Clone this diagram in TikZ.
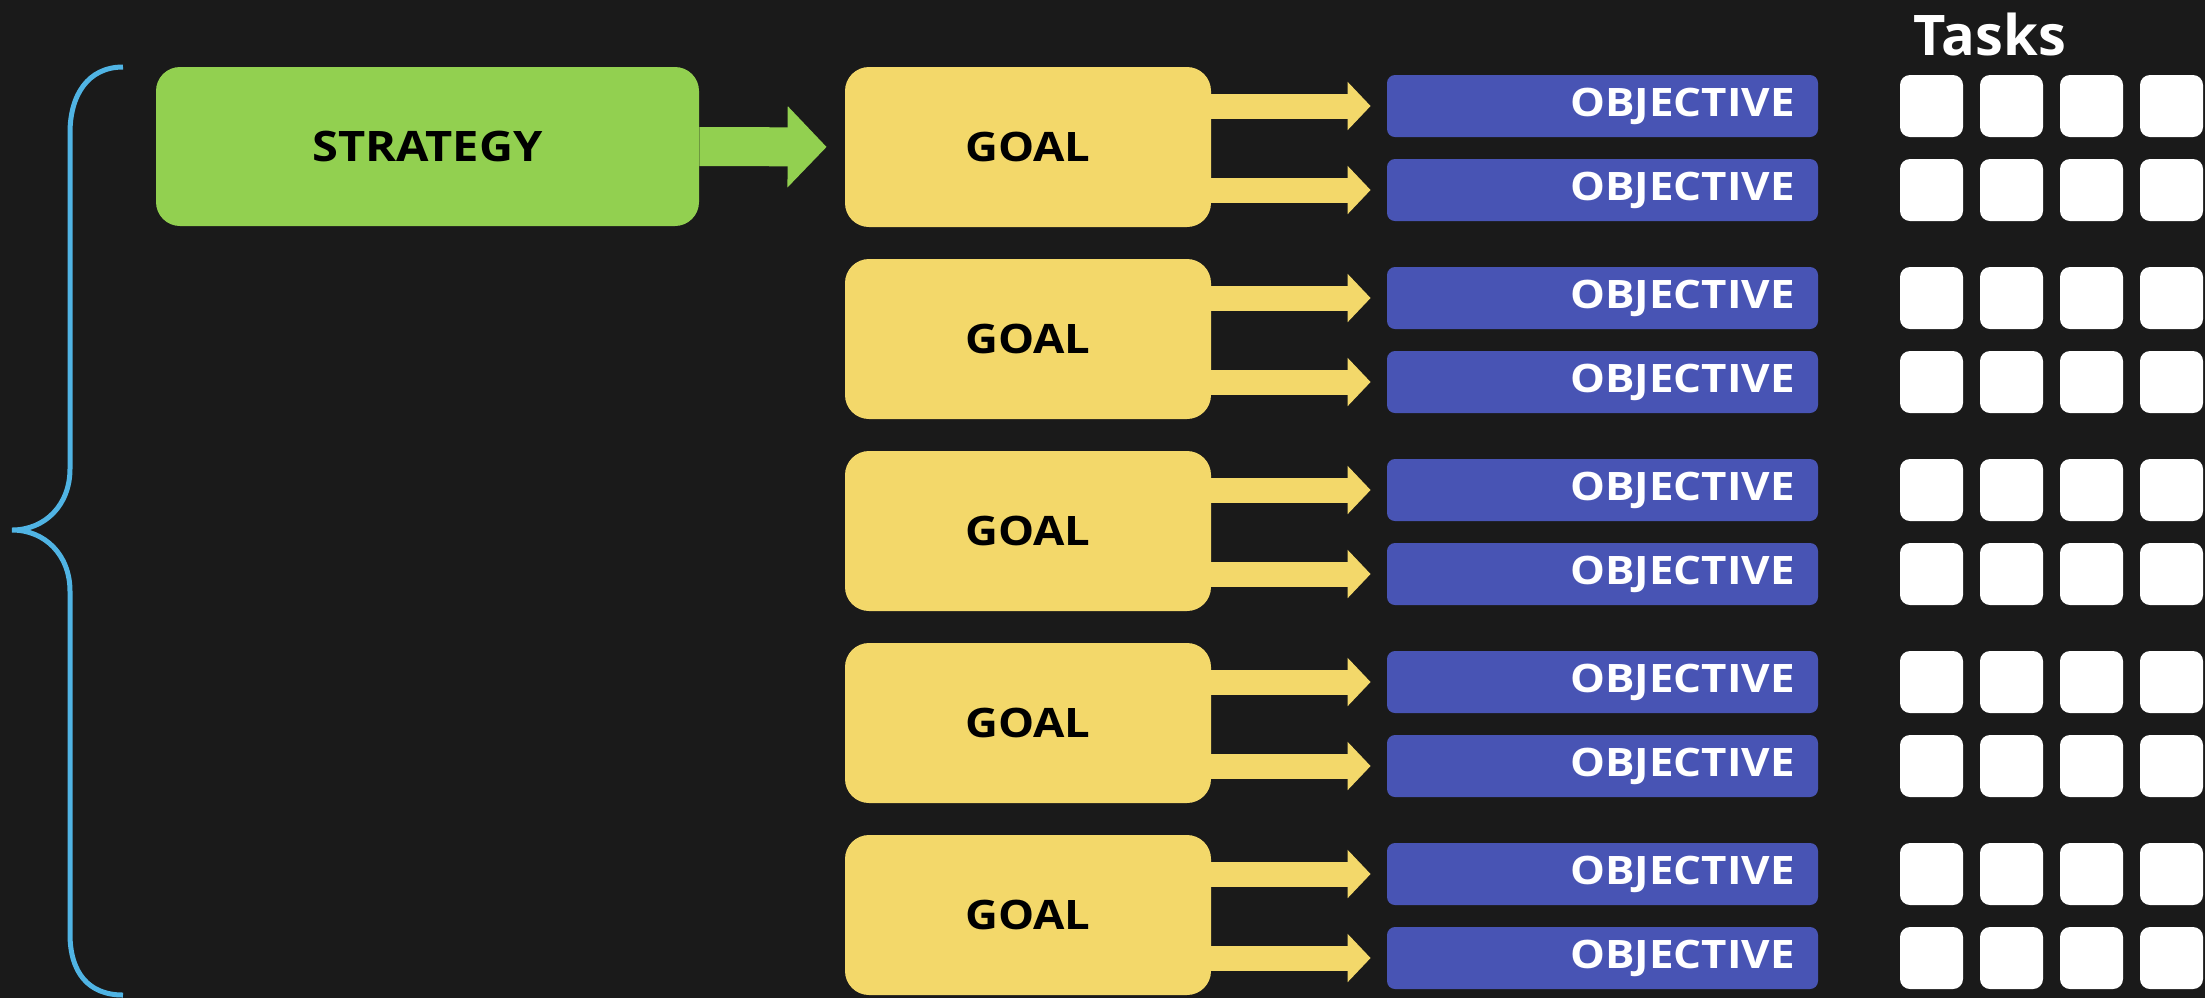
\documentclass[tikz,border=0pt]{standalone}
\usepackage{fontspec}
\setmainfont{Open Sans}
\newfontfamily\widefont{Open Sans}[FakeStretch=1.12]
\usetikzlibrary{arrows.meta,positioning}
\definecolor{board}{RGB}{26,26,26}
\definecolor{stratgreen}{RGB}{146,208,80}
\definecolor{goalyellow}{RGB}{243,216,106}
\definecolor{objblue}{RGB}{72,84,180}
\definecolor{braceblue}{RGB}{80,180,228}

\begin{document}
\begin{tikzpicture}[
    x=0.5pt, y=-0.5pt,
    inner sep=0pt, %boxes are sized by hand
    stratbox/.style={rectangle,rounded corners=12pt,fill=stratgreen,
        minimum width=271.5pt,minimum height=79.5pt,
        font=\widefont\fontsize{21}{23}\selectfont\bfseries},
    goalbox/.style={rectangle,rounded corners=12pt,fill=goalyellow,
        minimum width=183pt,minimum height=80pt,
        font=\widefont\fontsize{20.3}{22}\selectfont\bfseries},
    objbox/.style={rectangle,rounded corners=4pt,fill=objblue,text=white,
        minimum height=31pt,inner xsep=11.5pt,text width=192.5pt,align=right,
        font=\widefont\fontsize{19.6}{21}\selectfont\bfseries},
    taskbox/.style={rectangle,rounded corners=5pt,fill=white,
        minimum width=31.5pt,minimum height=31pt},
    garrow/.style={draw=stratgreen,line width=19.5pt,
        -{Triangle[length=19.5pt,width=39.5pt]},shorten >=9pt},
    yarrow/.style={draw=goalyellow,line width=12.5pt,
        -{Triangle[length=11.5pt,width=23.5pt]},shorten >=8pt},
    ]
    \useasboundingbox (0,0) rectangle (2205,998);
    \fill[board] (0,0) rectangle (2205,998);

    % brace
    \draw[braceblue,line width=2.5pt]
        (123,67) .. controls (88,67) and (70,95) .. (70,133)
        -- (70,469) .. controls (70,505) and (45,530) .. (12,530)
        .. controls (45,530) and (70,555) .. (70,591)
        -- (70,934) .. controls (70,972) and (88,995) .. (123,995);

    \node[stratbox] (strat) at (427.5,146.5) {STRATEGY};
    \node[text=white,font=\fontsize{28}{30}\selectfont\bfseries]
        (tasks) at (1990,34) {Tasks};

    \foreach \g in {0,...,4} {
        \node[goalbox] (g\g) at (1028,{147+192*\g}) {GOAL};
        \node[objbox] (o\g a) at (1602.5,{106+192*\g}) {OBJECTIVE};
        \node[objbox] (o\g b) at (1602.5,{190+192*\g}) {OBJECTIVE};
        \draw[yarrow] (g\g.east |- o\g a.west) -- (o\g a.west);
        \draw[yarrow] (g\g.east |- o\g b.west) -- (o\g b.west);
        \foreach \c in {0,...,3} {
            \node[taskbox] (t\g a\c) at ({1931.5+80*\c},{106+192*\g}) {};
            \node[taskbox] (t\g b\c) at ({1931.5+80*\c},{190+192*\g}) {};
        }
    }

    \draw[garrow] (strat.east) -- (g0.west);
\end{tikzpicture}
\end{document}
